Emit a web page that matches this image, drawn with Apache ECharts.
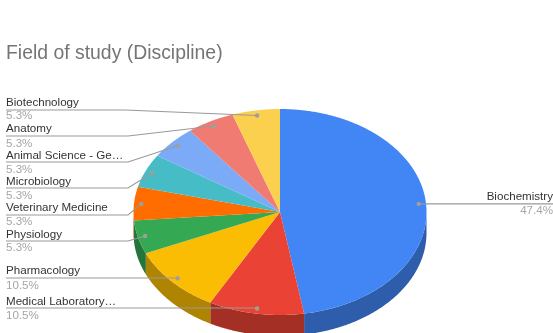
<!DOCTYPE html>
<html>
<head>
<meta charset="utf-8">
<style>html,body{margin:0;padding:0;background:#fff}#chart{width:553px;height:333px}</style>
<script src="https://cdn.jsdelivr.net/npm/echarts@6/dist/echarts.min.js"></script>
</head>
<body>
<div id="chart"></div>
<script>
// Respondents per discipline, clockwise from twelve o'clock
const categories = ['Biochemistry', 'Medical Laboratory…', 'Pharmacology', 'Physiology', 'Veterinary Medicine', 'Microbiology', 'Animal Science - Ge…', 'Anatomy', 'Biotechnology'];
const counts = [9, 2, 2, 1, 1, 1, 1, 1, 1];

const topColors = ['#4285F4', '#EA4335', '#FBBC04', '#34A853', '#FF6D01', '#46BDC6', '#7BAAF7', '#F07B72', '#FCD04F'];
const sideColors = ['#2E5DAB', '#A32F25', '#B08403', '#24753A', '#B24C01', '#31848B', '#5677AC', '#A85650', '#B09137'];

// Tilted disc geometry
const cx = 280, cy = 212, rx = 146.5, ry = 103, depth = 21;
const dotRadius = 0.95;

// Rows of the outside labels: name centre, leader height, share centre, elbow x
const nameY = [197, 301.5, 271, 234.5, 208, 182, 155.5, 129, 103];
const leaderY = [203, 308, 278, 241, 215, 188, 162, 136, 110];
const shareY = [210.5, 315.5, 285.5, 248, 222, 195.5, 169.5, 143.5, 116];
const elbowX = [null, null, null, 128, 128, 128, 128, 128, 125];

const font = '"Liberation Sans", Arial, sans-serif';
const total = counts.reduce((a, b) => a + b, 0);

function sliceAngles(i) {
  const before = counts.slice(0, i).reduce((a, b) => a + b, 0);
  return [before / total * 360, (before + counts[i]) / total * 360];
}
function rimPoint(deg, scale, drop) {
  const t = deg * Math.PI / 180;
  return [cx + Math.sin(t) * rx * scale, cy - Math.cos(t) * ry * scale + (drop || 0)];
}
function arcPoints(a0, a1, drop) {
  const pts = [];
  const n = Math.max(2, Math.ceil((a1 - a0) * 2));
  for (let k = 0; k <= n; k++) pts.push(rimPoint(a0 + (a1 - a0) * k / n, 1, drop));
  return pts;
}

// Wall of the disc: only the part facing the viewer (90° to 270°)
function renderWall(params) {
  const [a0, a1] = sliceAngles(params.dataIndex);
  const s = Math.max(a0, 90), e = Math.min(a1, 270);
  if (e <= s) return { type: 'group', children: [] };
  const points = arcPoints(s, e, 0).concat(arcPoints(s, e, depth).reverse());
  return { type: 'polygon', shape: { points }, style: { fill: sideColors[params.dataIndex] } };
}

// Top face of each slice
function renderTop(params) {
  const [a0, a1] = sliceAngles(params.dataIndex);
  const points = [[cx, cy]].concat(arcPoints(a0, a1, 0));
  return { type: 'polygon', shape: { points }, style: { fill: topColors[params.dataIndex] } };
}

// Leader line, anchor dot, name and share for each slice
function renderLabel(params) {
  const i = params.dataIndex;
  const [a0, a1] = sliceAngles(i);
  const dot = rimPoint((a0 + a1) / 2, dotRadius);
  const right = i === 0;
  const share = (counts[i] / total * 100).toFixed(1) + '%';
  const textX = right ? 553 : 6;
  const align = right ? 'right' : 'left';
  const line = right
    ? [dot, [553, dot[1]]]
    : elbowX[i] === null
      ? [[6, leaderY[i]], [dot[0], leaderY[i]]]
      : [[6, leaderY[i]], [elbowX[i], leaderY[i]], dot];
  return {
    type: 'group',
    children: [
      { type: 'polyline', shape: { points: line }, style: { fill: null, stroke: '#999999', lineWidth: 1.1 } },
      { type: 'circle', shape: { cx: dot[0], cy: dot[1], r: 2.2 }, style: { fill: '#9E9E9E' } },
      { type: 'text', x: textX, y: nameY[i], style: { text: categories[i], font: '11.6px ' + font, fill: '#333333', align, verticalAlign: 'middle' } },
      { type: 'text', x: textX, y: shareY[i], style: { text: share, font: '11.6px ' + font, fill: '#A6A6A6', align, verticalAlign: 'middle' } }
    ]
  };
}

const chart = echarts.init(document.getElementById('chart'), null, { renderer: 'canvas' });
chart.setOption({
  animation: false,
  backgroundColor: '#ffffff',
  title: {
    text: 'Field of study (Discipline)',
    left: 6,
    top: 44,
    padding: 0,
    textStyle: { fontFamily: font, fontSize: 19.4, fontWeight: 'normal', color: '#757575' }
  },
  series: [
    { type: 'custom', coordinateSystem: 'none', renderItem: renderWall, data: counts, silent: true, z: 1, clip: false },
    { type: 'custom', coordinateSystem: 'none', renderItem: renderTop, data: counts, silent: true, z: 2, clip: false },
    { type: 'custom', coordinateSystem: 'none', renderItem: renderLabel, data: counts, silent: true, z: 3, clip: false }
  ]
});
</script>
</body>
</html>
